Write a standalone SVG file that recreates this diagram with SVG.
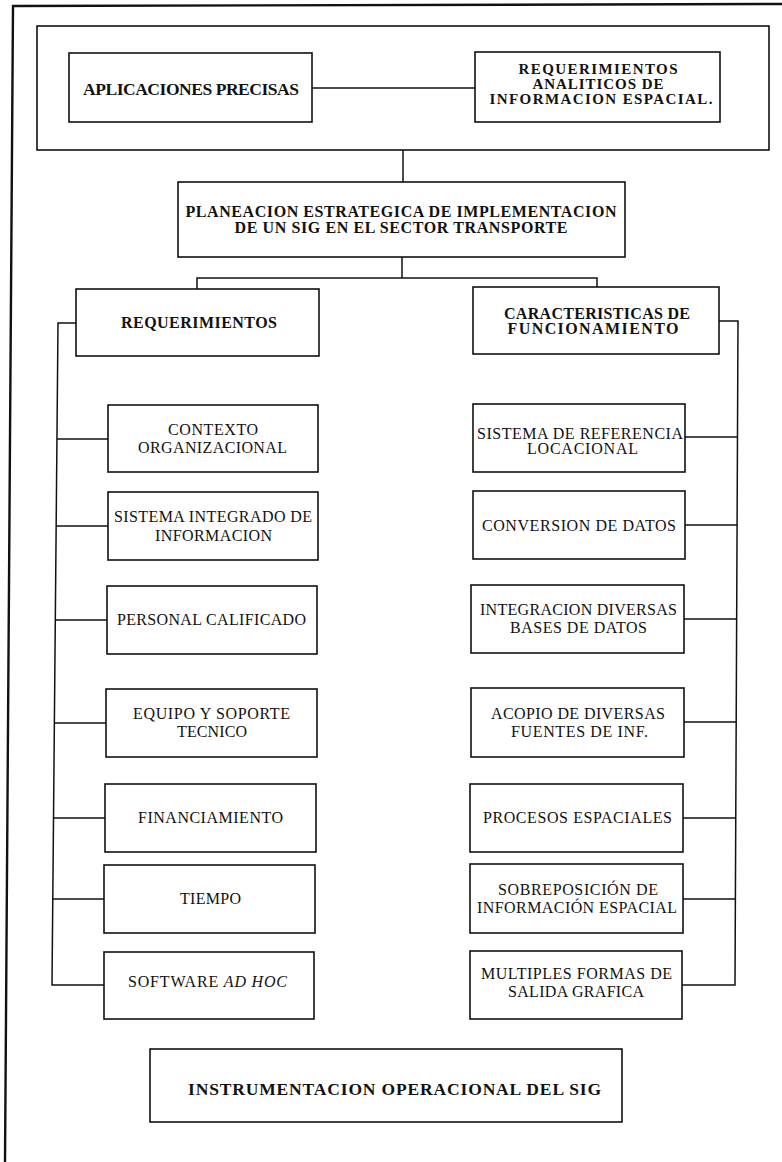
<svg xmlns="http://www.w3.org/2000/svg" width="782" height="1162" viewBox="0 0 782 1162">
  <style>
    .box { fill: #ffffff; stroke: #111111; stroke-width: 1.6; }
    .wire { fill: none; stroke: #111111; stroke-width: 1.5; }
    .frame { fill: none; stroke: #111111; stroke-width: 2.4; }
    text { font-family: "Liberation Serif", "Times New Roman", serif; fill: #111111; text-anchor: middle; }
    .h { font-weight: bold; font-size: 16px; }
    .hs { font-weight: bold; font-size: 15px; }
    .hl { font-weight: bold; font-size: 17.5px; }
    .t { font-size: 16px; }
  </style>

  <!-- page frame -->
  <g id="frame">
    <polyline class="frame" points="782,4 13,6 5,1162"/>
  </g>

  <!-- connectors -->
  <g id="connectors">
    <line class="wire" x1="312" y1="88" x2="475" y2="88"/>
    <line class="wire" x1="403" y1="150" x2="403" y2="182"/>
    <line class="wire" x1="402" y1="257" x2="402" y2="278"/>
    <polyline class="wire" points="197,289 197,278 597,278 597,287"/>
    <!-- left spine -->
    <polyline class="wire" points="76,323 58,323 52,985 104,985"/>
    <line class="wire" x1="57" y1="439" x2="108" y2="439"/>
    <line class="wire" x1="56.3" y1="526" x2="108" y2="526"/>
    <line class="wire" x1="55.4" y1="620" x2="107" y2="620"/>
    <line class="wire" x1="54.5" y1="723" x2="106" y2="723"/>
    <line class="wire" x1="53.7" y1="818" x2="105" y2="818"/>
    <line class="wire" x1="53" y1="899" x2="104" y2="899"/>
    <!-- right spine -->
    <polyline class="wire" points="719,321 738,321 735,985 682,985"/>
    <line class="wire" x1="685" y1="437" x2="737.4" y2="437"/>
    <line class="wire" x1="685" y1="525" x2="737" y2="525"/>
    <line class="wire" x1="684" y1="619" x2="736.6" y2="619"/>
    <line class="wire" x1="684" y1="722" x2="736.1" y2="722"/>
    <line class="wire" x1="683" y1="818" x2="735.7" y2="818"/>
    <line class="wire" x1="683" y1="899" x2="735.3" y2="899"/>
  </g>

  <!-- top group: container -->
  <g id="top-container">
    <rect class="box" x="37" y="26" width="732" height="124" style="fill:none"/>
  </g>

  <g id="aplicaciones">
    <rect class="box" x="69" y="53" width="243" height="69"/>
    <text class="hl" x="191" y="95" textLength="216">APLICACIONES PRECISAS</text>
  </g>

  <g id="requerimientos-analiticos">
    <rect class="box" x="475" y="52" width="245" height="70"/>
    <text class="hs" x="598" y="74" textLength="159">REQUERIMIENTOS</text>
    <text class="hs" x="598" y="89" textLength="131">ANALITICOS DE</text>
    <text class="hs" x="601" y="104" textLength="223">INFORMACION ESPACIAL.</text>
  </g>

  <g id="planeacion">
    <rect class="box" x="178" y="182" width="447" height="75"/>
    <text class="h" x="401" y="217" textLength="431">PLANEACION ESTRATEGICA DE IMPLEMENTACION</text>
    <text class="h" x="401" y="233" textLength="333">DE UN SIG EN EL SECTOR TRANSPORTE</text>
  </g>

  <g id="requerimientos">
    <rect class="box" x="76" y="289" width="243" height="67"/>
    <text class="h" x="199" y="328" textLength="156">REQUERIMIENTOS</text>
  </g>

  <g id="caracteristicas">
    <rect class="box" x="473" y="287" width="246" height="67"/>
    <text class="h" x="597" y="319" textLength="186">CARACTERISTICAS DE</text>
    <text class="h" x="593" y="334" textLength="171">FUNCIONAMIENTO</text>
  </g>

  <!-- left column -->
  <g id="contexto">
    <rect class="box" x="108" y="405" width="210" height="67"/>
    <text class="t" x="213" y="435" textLength="90">CONTEXTO</text>
    <text class="t" x="212.5" y="453" textLength="149">ORGANIZACIONAL</text>
  </g>

  <g id="sistema-integrado">
    <rect class="box" x="108" y="492" width="210" height="68"/>
    <text class="t" x="213" y="522" textLength="198">SISTEMA INTEGRADO DE</text>
    <text class="t" x="213.5" y="541" textLength="117">INFORMACION</text>
  </g>

  <g id="personal">
    <rect class="box" x="107" y="586" width="210" height="68"/>
    <text class="t" x="211.5" y="625" textLength="189">PERSONAL CALIFICADO</text>
  </g>

  <g id="equipo">
    <rect class="box" x="106" y="689" width="211" height="68"/>
    <text class="t" x="211.5" y="719" textLength="157">EQUIPO Y SOPORTE</text>
    <text class="t" x="212" y="737" textLength="70">TECNICO</text>
  </g>

  <g id="financiamiento">
    <rect class="box" x="105" y="784" width="211" height="68"/>
    <text class="t" x="210.5" y="823" textLength="145">FINANCIAMIENTO</text>
  </g>

  <g id="tiempo">
    <rect class="box" x="104" y="865" width="211" height="68"/>
    <text class="t" x="210.5" y="904" textLength="61">TIEMPO</text>
  </g>

  <g id="software">
    <rect class="box" x="104" y="952" width="210" height="67"/>
    <text class="t" x="207.5" y="987" textLength="159">SOFTWARE <tspan font-style="italic">AD HOC</tspan></text>
  </g>

  <!-- right column -->
  <g id="sistema-referencia">
    <rect class="box" x="473" y="404" width="212" height="68"/>
    <text class="t" x="580" y="439" textLength="206">SISTEMA DE REFERENCIA</text>
    <text class="t" x="582.5" y="454" textLength="111">LOCACIONAL</text>
  </g>

  <g id="conversion">
    <rect class="box" x="473" y="491" width="212" height="68"/>
    <text class="t" x="579" y="531" textLength="194">CONVERSION DE DATOS</text>
  </g>

  <g id="integracion">
    <rect class="box" x="471" y="585" width="213" height="68"/>
    <text class="t" x="578.5" y="615" textLength="197">INTEGRACION DIVERSAS</text>
    <text class="t" x="578.5" y="633" textLength="137">BASES DE DATOS</text>
  </g>

  <g id="acopio">
    <rect class="box" x="471" y="688" width="213" height="69"/>
    <text class="t" x="578" y="719" textLength="174">ACOPIO DE DIVERSAS</text>
    <text class="t" x="579.5" y="737" textLength="137">FUENTES DE INF.</text>
  </g>

  <g id="procesos">
    <rect class="box" x="470" y="784" width="213" height="68"/>
    <text class="t" x="577.5" y="823" textLength="189">PROCESOS ESPACIALES</text>
  </g>

  <g id="sobreposicion">
    <rect class="box" x="470" y="864" width="213" height="69"/>
    <text class="t" x="578" y="895" textLength="160">SOBREPOSICIÓN DE</text>
    <text class="t" x="577" y="913" textLength="200">INFORMACIÓN ESPACIAL</text>
  </g>

  <g id="multiples">
    <rect class="box" x="470" y="951" width="212" height="68"/>
    <text class="t" x="576.5" y="979" textLength="191">MULTIPLES FORMAS DE</text>
    <text class="t" x="576" y="997" textLength="136">SALIDA GRAFICA</text>
  </g>

  <!-- bottom -->
  <g id="instrumentacion">
    <rect class="box" x="150" y="1049" width="472" height="73"/>
    <text class="hl" x="394.5" y="1095" textLength="413">INSTRUMENTACION OPERACIONAL DEL SIG</text>
  </g>
</svg>
